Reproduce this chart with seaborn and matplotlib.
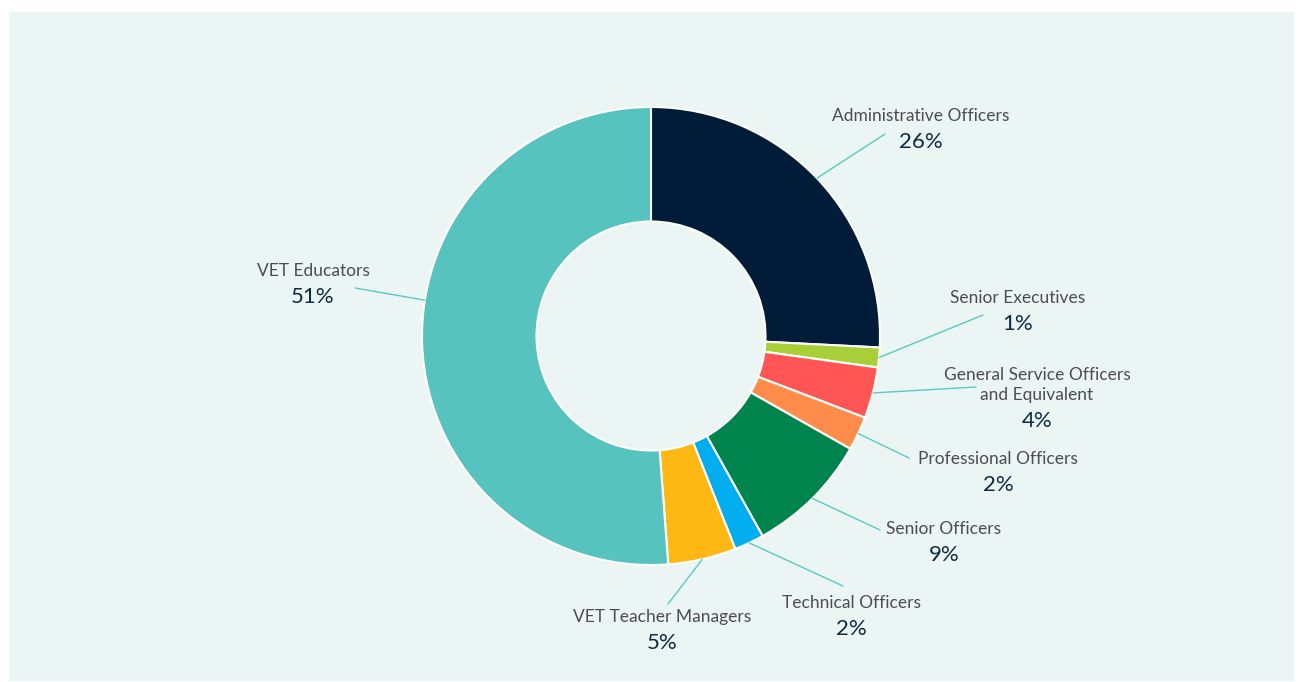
import matplotlib
matplotlib.use("Agg")
import matplotlib.pyplot as plt
import seaborn as sns
import numpy as np

# data (share of staff, percent)
categories = ["Administrative Officers", "Senior Executives",
              "General Service Officers\nand Equivalent", "Professional Officers",
              "Senior Officers", "Technical Officers", "VET Teacher Managers",
              "VET Educators"]
shares = [25.8, 1.4, 3.6, 2.4, 8.7, 2.1, 4.8, 51.2]

colors = ["#001C38", "#A8CF38", "#FF5555", "#FF8C4A",
          "#00844E", "#00AEEF", "#FDB813", "#56C3BE"]

# layout in pixels (figure is 1300 x 682, y measured from the top)
W, H = 1300, 682
CX, CY, R = 651, 336, 229
pct_pos = [(921, 142), (1018, 324), (1037, 421), (998, 485),
           (944, 555), (851, 629), (662, 643), (313, 297)]
line_end = [(885, 134), (983, 315), (976, 387), (909, 458),
            (880, 530), (843, 586), (668, 604), (355, 288)]
# leader anchor angle on the ring (None = middle of the slice)
anchor_angle = [None, None, None, None, None, None, None, 171]

sns.set_theme(style="white")
plt.rcParams['font.family'] = ['Lato', 'DejaVu Sans']

fig = plt.figure(figsize=(W / 100, H / 100), dpi=100, facecolor="white")

# light panel behind the chart
bg = fig.add_axes([9 / W, 1 - 681 / H, 1285 / W, 669 / H])
bg.set_facecolor("#EBF5F3")
bg.set_xticks([])
bg.set_yticks([])
for s in bg.spines.values():
    s.set_visible(False)

ax = fig.add_axes([0, 0, 1, 1])
ax.patch.set_alpha(0)
wedges, _ = ax.pie(shares, colors=colors, startangle=90, counterclock=False,
                   radius=R, center=(CX, H - CY),
                   wedgeprops=dict(width=R * 0.5, edgecolor="white", linewidth=1.5))
ax.set_xlim(0, W)
ax.set_ylim(0, H)
ax.set_aspect("equal")
ax.axis("off")

total = sum(shares)
for w, name, val, (tx, ty), (lx, ly), ang in zip(wedges, categories, shares,
                                                 pct_pos, line_end, anchor_angle):
    if ang is None:
        ang = (w.theta1 + w.theta2) / 2
    mid = np.deg2rad(ang)
    sx = CX + R * np.cos(mid)
    sy = (H - CY) + R * np.sin(mid)
    ax.plot([sx, lx], [sy, H - ly], color="#5CC8C2", lw=1)
    ax.text(tx, H - ty + 18, name, ha="center", va="bottom", fontsize=12.5,
            color="#4D4D4D", linespacing=1.3, multialignment="center")
    ax.text(tx, H - ty, f"{val / total * 100:.0f}%", ha="center", va="center",
            fontsize=16, color="#0D2B3E")

fig.savefig("out.png", dpi=100, facecolor="white")
